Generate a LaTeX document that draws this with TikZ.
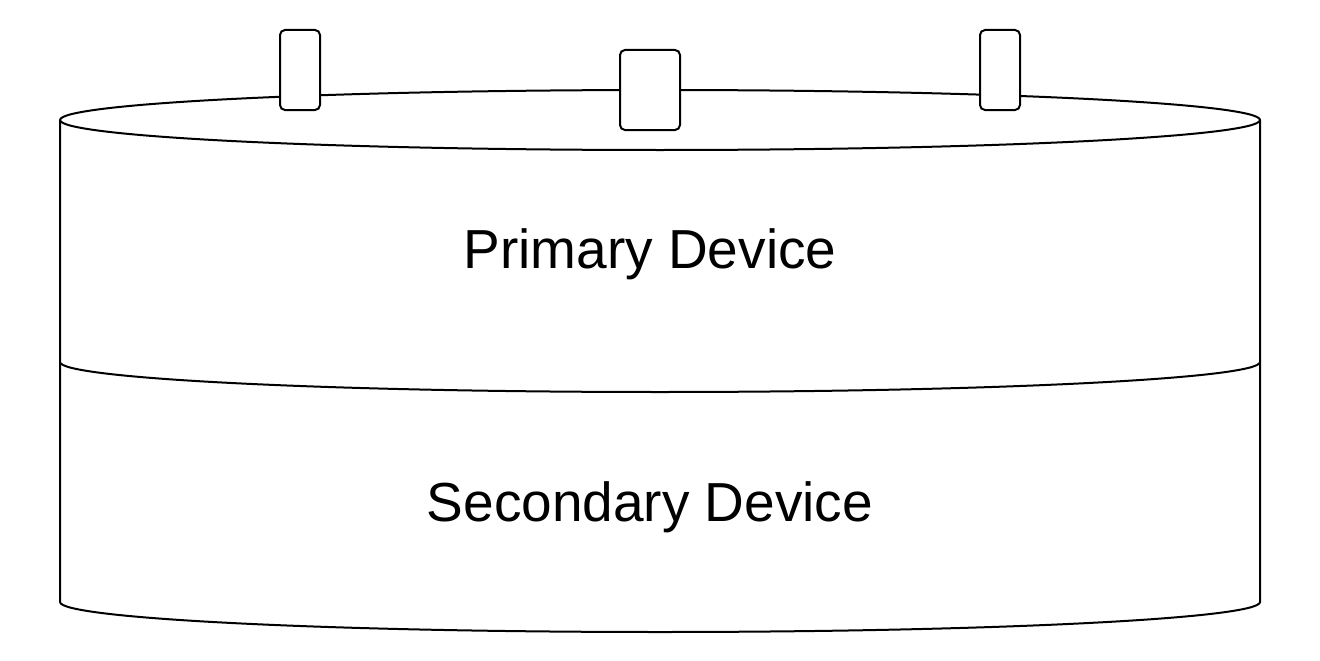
\documentclass[tikz,border=0pt]{standalone}
\usepackage{fontspec}
\setmainfont{Liberation Sans}
\begin{document}
\begin{tikzpicture}[x=1pt,y=-1pt,
  line/.style={line width=2pt,line join=round},
  tab/.style={draw,line width=2pt,fill=white,rounded corners=5pt,inner sep=0pt},
  lbl/.style={font=\fontsize{55}{60}\selectfont}]
\useasboundingbox (0,0) rectangle (1320,661);
% secondary cylinder
\draw[line,fill=white] (60,362) -- (60,602) arc[start angle=180,end angle=0,x radius=600,y radius=30] -- (1260,362);
% primary cylinder
\draw[line,fill=white] (60,120) -- (60,362) arc[start angle=180,end angle=0,x radius=600,y radius=30] -- (1260,120);
\draw[line,fill=white] (660,120) ellipse[x radius=600,y radius=30];
% tabs
\node[tab,minimum width=40pt,minimum height=80pt] (t1) at (300,70) {};
\node[tab,minimum width=60pt,minimum height=80pt] (t2) at (650,90) {};
\node[tab,minimum width=40pt,minimum height=80pt] (t3) at (1000,70) {};
% labels
\node[lbl] (p) at (650,254) {Primary Device};
\node[lbl] (s) at (650,507) {Secondary Device};
\end{tikzpicture}
\end{document}
